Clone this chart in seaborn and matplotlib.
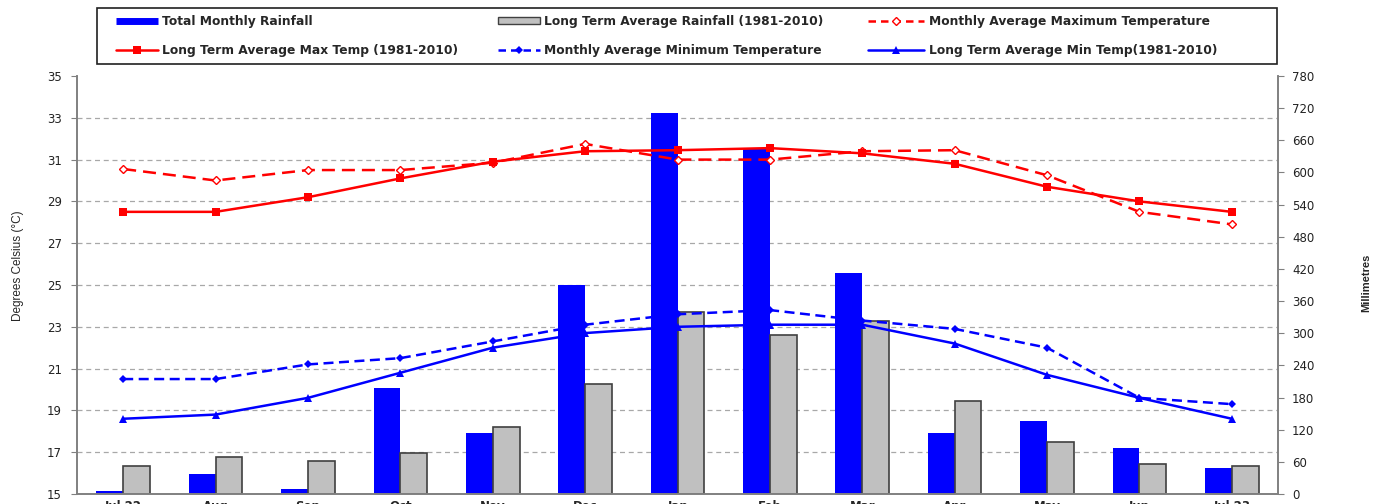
import pandas as pd
import seaborn as sns
import matplotlib.pyplot as plt
import numpy as np
from matplotlib.lines import Line2D
from matplotlib.patches import Patch, Rectangle

# data
months = ['Jul 22', 'Aug', 'Sep', 'Oct', 'Nov', 'Dec', 'Jan', 'Feb', 'Mar', 'Apr', 'May', 'Jun', 'Jul 23']
rain_total = [6, 37, 9, 198, 114, 390, 711, 646, 412, 114, 136, 86, 49]
rain_lt = [52, 69, 62, 77, 125, 205, 340, 297, 323, 174, 97, 56, 52]
tmax_month = [30.55, 30.0, 30.5, 30.5, 30.85, 31.75, 31.0, 31.0, 31.4, 31.45, 30.25, 28.5, 27.9]
tmax_lt = [28.5, 28.5, 29.2, 30.1, 30.9, 31.4, 31.45, 31.55, 31.3, 30.8, 29.7, 29.0, 28.5]
tmin_month = [20.5, 20.5, 21.2, 21.5, 22.3, 23.1, 23.6, 23.8, 23.3, 22.9, 22.0, 19.6, 19.3]
tmin_lt = [18.6, 18.8, 19.6, 20.8, 22.0, 22.7, 23.0, 23.1, 23.1, 22.2, 20.7, 19.6, 18.6]

lbl_rain = 'Total Monthly Rainfall'
lbl_rain_lt = 'Long Term Average Rainfall (1981-2010)'
lbl_max = 'Monthly Average Maximum Temperature'
lbl_max_lt = 'Long Term Average Max Temp (1981-2010)'
lbl_min = 'Monthly Average Minimum Temperature'
lbl_min_lt = 'Long Term Average Min Temp(1981-2010)'

sns.set_style('white')
plt.rcParams['font.family'] = ['DejaVu Sans']

red_dash = (0, (5.2, 2.8))
blue_dash = (0, (4, 2.2))

rain = pd.DataFrame({
    'month': months * 2,
    'mm': rain_total + rain_lt,
    'series': [lbl_rain] * 13 + [lbl_rain_lt] * 13,
})
temps = pd.DataFrame({'month': months, 'tmax': tmax_month, 'tmax_lt': tmax_lt,
                      'tmin': tmin_month, 'tmin_lt': tmin_lt})
temps['x'] = np.arange(len(months))

fig = plt.figure(figsize=(13.84, 5.04), dpi=100)
ax = fig.add_axes([77 / 1384, 10 / 504, 1201 / 1384, 418 / 504])

# rainfall bars on the millimetre axis (right)
sns.barplot(data=rain, x='month', y='mm', hue='series', order=months,
            palette=['#0000FF', '#C0C0C0'], width=0.58, gap=0, saturation=1,
            legend=False, ax=ax, zorder=2)
for p in ax.containers[0]:
    p.set_edgecolor('none')
for p in ax.containers[1]:
    p.set_edgecolor('#404040')
    p.set_linewidth(1.2)
ax.set_ylim(0, 780)
ax.set_yticks(np.arange(0, 781, 60))
ax.set_yticks(np.arange(0, 781, 78), minor=True)
ax.set_axisbelow(True)
ax.grid(False)
ax.grid(True, which='minor', axis='y', color='#A8A8A8', linestyle=(0, (4, 3)), linewidth=0.9)
ax.set_xlim(-0.5, 12.5)
ax.set_xlabel('')
ax.set_ylabel('')

# temperatures on the degrees axis (left)
ax2 = ax.twinx()
sns.lineplot(data=temps, x='x', y='tmax', ax=ax2, color='#FF0000', linewidth=1.8,
             linestyle=red_dash, marker='D', markersize=4, markerfacecolor='white',
             markeredgecolor='#FF0000', markeredgewidth=1, sort=False)
sns.lineplot(data=temps, x='x', y='tmax_lt', ax=ax2, color='#FF0000', linewidth=1.8,
             marker='s', markersize=6, markeredgewidth=0, sort=False)
sns.lineplot(data=temps, x='x', y='tmin', ax=ax2, color='#0000FF', linewidth=1.8,
             linestyle=blue_dash, marker='D', markersize=4, markeredgewidth=0, sort=False)
sns.lineplot(data=temps, x='x', y='tmin_lt', ax=ax2, color='#0000FF', linewidth=1.8,
             marker='^', markersize=6, markeredgewidth=0, sort=False)
ax2.set_ylim(15, 35)
ax2.set_yticks(np.arange(15, 36, 2))
ax2.set_xlim(-0.5, 12.5)
ax2.set_xlabel('')
ax2.set_ylabel('')

# swap sides: degrees left, millimetres right
ax.yaxis.tick_right()
ax2.yaxis.tick_left()

# ticks and spines
ax.set_xticks(np.arange(13))
ax.set_xticklabels(months, fontweight='bold', fontsize=8.5)
ax.set_xticks(np.arange(-0.5, 13, 1), minor=True)
ax.tick_params(axis='x', which='major', length=0, pad=4)
ax.tick_params(axis='x', which='minor', length=3, color='#808080', direction='out')
ax.tick_params(axis='y', which='major', length=4, color='#808080', direction='out',
               labelsize=8.5, pad=6, labelcolor='#222222')
ax.tick_params(axis='y', which='minor', length=0)
ax2.tick_params(axis='y', length=4, color='#808080', direction='out', labelsize=8.5,
                pad=7, labelcolor='#222222')
for a in (ax, ax2):
    a.spines['top'].set_visible(False)
    for s in ('left', 'right', 'bottom'):
        a.spines[s].set_color('#808080')
        a.spines[s].set_linewidth(1.2)

fig.text(18 / 1384, 1 - 266 / 504, 'Degrees Celsius (°C)', rotation=90, ha='center', va='center',
         fontsize=8.5, family=['Liberation Sans Narrow', 'Liberation Sans'])
fig.text(1366 / 1384, 1 - 283 / 504, 'Millimetres', rotation=90, ha='center', va='center',
         fontsize=8, fontweight='bold', family=['Liberation Sans Narrow', 'Liberation Sans'])

# legend, two rows of three, inside a plain box
h_rain = Line2D([], [], color='#0000FF', linewidth=5, solid_capstyle='butt')
h_rain_lt = Patch(facecolor='#C0C0C0', edgecolor='#404040', linewidth=1)
h_max_lt = Line2D([], [], color='#FF0000', linewidth=1.8, marker='s', markersize=6, markeredgewidth=0)
h_min = Line2D([], [], color='#0000FF', linewidth=1.8, linestyle=(0, (3, 2)), marker='D',
               markersize=4, markeredgewidth=0)
h_max = Line2D([], [], color='#FF0000', linewidth=1.8, linestyle=(0, (3, 2)), marker='D',
               markersize=4, markerfacecolor='white', markeredgecolor='#FF0000')
h_min_lt = Line2D([], [], color='#0000FF', linewidth=1.8, marker='^', markersize=6, markeredgewidth=0)

leg_kw = dict(loc='upper left', prop={'weight': 'bold', 'size': 8.8}, frameon=False,
              handleheight=0.45, handletextpad=0.35, borderpad=0, labelspacing=1.3,
              borderaxespad=0)
leg1 = fig.legend([h_rain, h_max_lt, h_rain_lt, h_min], [lbl_rain, lbl_max_lt, lbl_rain_lt, lbl_min],
                  ncol=2, bbox_to_anchor=(116 / 1384, 1 - 15 / 504), handlelength=3.4,
                  columnspacing=3.3, **leg_kw)
leg2 = fig.legend([h_max, h_min_lt], [lbl_max, lbl_min_lt], ncol=1,
                  bbox_to_anchor=(868 / 1384, 1 - 15 / 504), handlelength=4.6, **leg_kw)
fig.add_artist(Rectangle((97 / 1384, 1 - 64 / 504), 1180 / 1384, 56 / 504,
                         transform=fig.transFigure, fill=False, edgecolor='#202020', linewidth=1.2))

fig.savefig('out.png', dpi=100)
